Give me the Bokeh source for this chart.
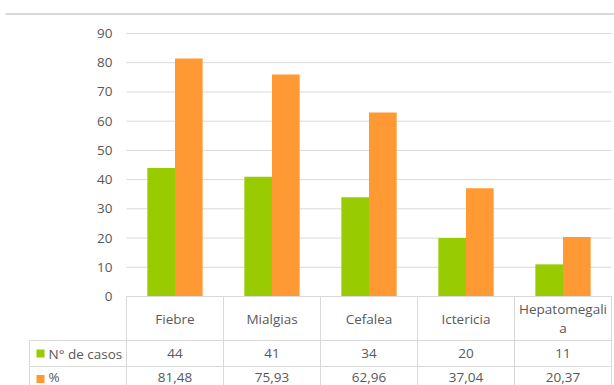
from bokeh.plotting import figure
from bokeh.models import Range1d, ColumnDataSource, Span
from bokeh.transform import dodge
from bokeh.core.properties import value
from bokeh.embed import file_html
from bokeh.resources import INLINE

# ---- data ----
categories = ["Fiebre", "Mialgias", "Cefalea", "Ictericia", "Hepatomegalia"]
header_labels = ["Fiebre", "Mialgias", "Cefalea", "Ictericia", "Hepatomegali\na"]
casos = [44, 41, 34, 20, 11]
porcentaje = [81.48, 75.93, 62.96, 37.04, 20.37]
series_names = ["N° de casos", "%"]
y_ticks = [0, 10, 20, 30, 40, 50, 60, 70, 80, 90]

# ---- style ----
GREEN = "#99CC00"
ORANGE = "#FF9933"
GRID = "#D9D9D9"
TXT = "#595959"
FONT = value("Open Sans")
FS = "13.5px"

W, H = 614, 385
PX_X = 97.0            # pixels per category
PX_Y = 263.0 / 90.0    # pixels per unit
X0_PAGE = 174.5        # pixel x of first category center
Y0_PAGE = 296.0        # pixel y of value 0

def xr(px):
    return (px - X0_PAGE) / PX_X

def yr(py):
    return (Y0_PAGE - py) / PX_Y

p = figure(width=W, height=H, output_backend="svg", toolbar_location=None,
           x_range=Range1d(xr(0), xr(W)), y_range=Range1d(yr(H), yr(0)),
           x_axis_type=None, y_axis_type=None, min_border=0,
           outline_line_color=None)
p.grid.visible = False
p.background_fill_color = "white"
p.border_fill_color = "white"

n = len(categories)
idx = list(range(n))

# top chart border
p.segment(x0=[xr(5)], x1=[xr(614)], y0=[yr(13.5)], y1=[yr(13.5)],
          line_color=GRID, line_width=2)

# gridlines
p.segment(x0=[-0.5] * len(y_ticks), x1=[n - 0.5] * len(y_ticks), y0=y_ticks, y1=y_ticks,
          line_color=GRID, line_width=1)
# y tick labels
p.text(x=[xr(112)] * len(y_ticks), y=y_ticks, text=[str(t) for t in y_ticks],
       text_align="right", text_baseline="middle", text_color=TXT,
       text_font=FONT, text_font_size=FS)

# bars
src = ColumnDataSource(dict(idx=idx, casos=casos, pct=porcentaje))
bw = 0.285
p.vbar(x=dodge("idx", -bw / 2), top="casos", width=bw, bottom=0, source=src,
       fill_color=GREEN, line_color=None)
p.vbar(x=dodge("idx", bw / 2), top="pct", width=bw, bottom=0, source=src,
       fill_color=ORANGE, line_color=None)

# ---- data table ----
row_b = [0, yr(340), yr(366), yr(392)]
# horizontal lines
p.segment(x0=[-0.5, -1.5, -1.5, -1.5], x1=[n - 0.5] * 4, y0=row_b, y1=row_b,
          line_color=GRID, line_width=1)
# vertical lines
vx = [i - 0.5 for i in range(n + 1)]
p.segment(x0=vx, x1=vx, y0=[0] * len(vx), y1=[row_b[3]] * len(vx),
          line_color=GRID, line_width=1)
p.segment(x0=[-1.5], x1=[-1.5], y0=[row_b[1]], y1=[row_b[3]],
          line_color=GRID, line_width=1)

# header
p.text(x=idx, y=[(row_b[0] + row_b[1]) / 2] * n, text=header_labels,
       text_align="center", text_baseline="middle", text_color=TXT,
       text_font=FONT, text_font_size=FS, text_line_height=1.1)
# rows
r1 = (row_b[1] + row_b[2]) / 2
r2 = yr(376.5)
p.text(x=idx, y=[r1] * n, text=[str(v) for v in casos],
       text_align="center", text_baseline="middle", text_color=TXT,
       text_font=FONT, text_font_size=FS)
p.text(x=idx, y=[r2] * n, text=[f"{v:.2f}".replace(".", ",") for v in porcentaje],
       text_align="center", text_baseline="middle", text_color=TXT,
       text_font=FONT, text_font_size=FS)
# legend keys
p.scatter(x=[xr(40)] * 2, y=[r1, yr(378.5)], marker="square", size=8,
          fill_color=[GREEN, ORANGE], line_color=None)
p.text(x=[xr(48)] * 2, y=[r1, r2], text=series_names,
       text_align="left", text_baseline="middle", text_color=TXT,
       text_font=FONT, text_font_size=FS)

open("out.html", "w").write(file_html(p, INLINE))
